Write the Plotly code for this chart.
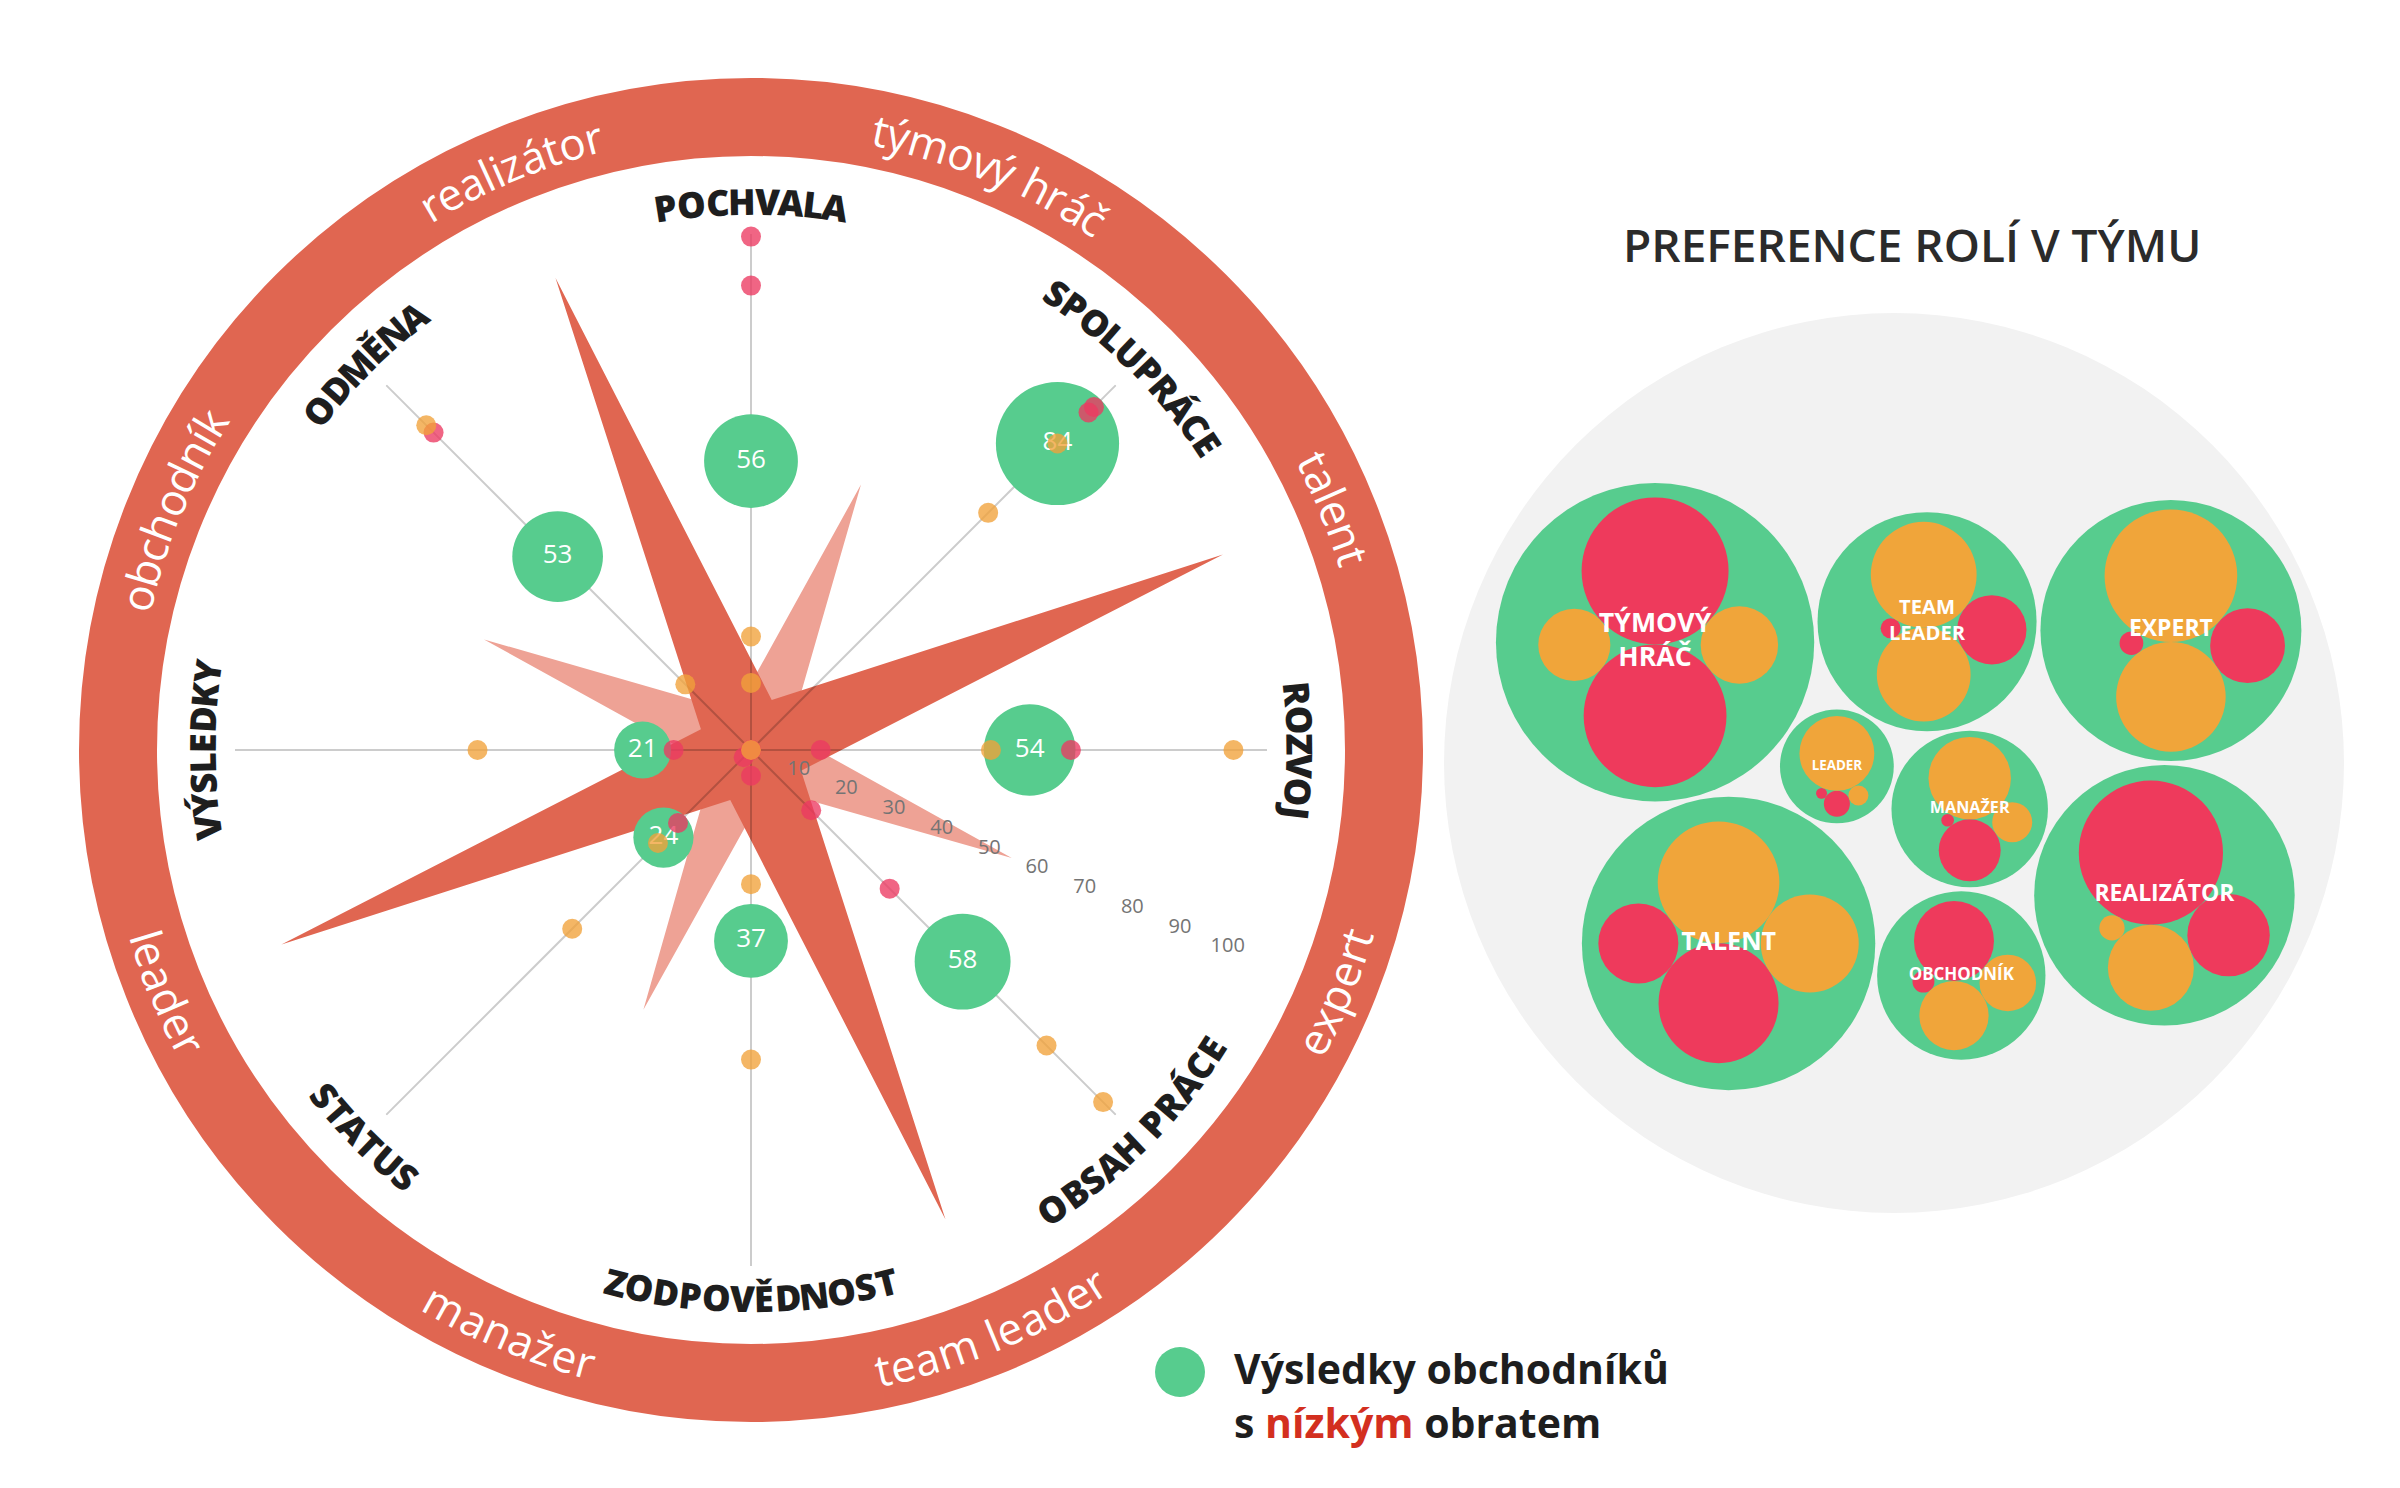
import math
import unicodedata
import plotly.graph_objects as go

W, H = 2400, 1488

# ------------------------------------------------------------------ data
CATEGORIES = ["POCHVALA", "SPOLUPRÁCE", "ROZVOJ", "OBSAH PRÁCE",
              "ZODPOVĚDNOST", "STATUS", "VÝSLEDKY", "ODMĚNA"]
GREEN_VALUES = [56, 84, 54, 58, 37, 24, 21, 53]
RED_1 = [99.5, 94, 62, 38, 5, 20, 15, 87]
RED_2 = [90, 92.5, 13.5, 16.5, 0, 2, 0, 0]
ORANGE_1 = [22, 84, 93.5, 96.5, 26, 49, 53, 89]
ORANGE_2 = [13, 65, 46.5, 81, 60, 25.5, 0, 18]

RING_ROLES = ["týmový hráč", "talent", "expert", "team leader",
              "manažer", "leader", "obchodník", "realizátor"]
STAR_DARK = [10.5, 99, 10.5, 98.5, 10.5, 98.5, 10.5, 99]
STAR_LIGHT = [55.7, 8, 54.7, 8, 54.5, 8, 56, 8]
RADIAL_TICKS = [10, 20, 30, 40, 50, 60, 70, 80, 90, 100]

ROLE_NAMES = ["TÝMOVÝ HRÁČ", "TEAM LEADER", "EXPERT", "REALIZÁTOR",
              "OBCHODNÍK", "TALENT", "MANAŽER", "LEADER"]
ROLE_RED_1 = [54, 12, 14, 52, 16, 16, 9.6, 1.7]
ROLE_RED_2 = [51, 1, 1.4, 17, 1.2, 36, 0.4, 0.3]
ROLE_ORANGE_1 = [15, 28, 44, 18.5, 12, 37, 17, 14]
ROLE_ORANGE_2 = [13, 22, 30, 1.6, 8, 24, 4, 1]

TITLE = "PREFERENCE ROLÍ V TÝMU"
LEGEND_LINE1 = "Výsledky obchodníků"
LEGEND_LINE2 = "s <span style='color:#d32f1f'>nízkým</span> obratem"

# ------------------------------------------------------------------ style / geometry
FONT = "Open Sans"
GREEN = "#57cc8e"
RED = "#ec3a62"
ORANGE = "#f1a23a"
CORAL = "#e06651"
PINK = "#eea295"
INNER_RED = "#ee3a5c"
INNER_ORANGE = "#f0a53a"

CX, CY = 743.0, 742.0
R_POLAR = 516.0
RING_R, RING_W = 633.0, 78.0
LABEL_R = 549.0

PACK_CX, PACK_CY = 1892.0, 748.0
GRAY_CX, GRAY_CY = 1886.0, 755.0
PACK_START_BEARING = 306.0

REG = {'a': .556, 'b': .613, 'c': .476, 'd': .613, 'e': .561, 'f': .336, 'g': .546,
       'h': .614, 'i': .253, 'j': .253, 'k': .525, 'l': .253, 'm': .930, 'n': .614,
       'o': .604, 'p': .613, 'q': .613, 'r': .408, 's': .477, 't': .353, 'u': .614,
       'v': .500, 'w': .778, 'x': .519, 'y': .500, 'z': .477, ' ': .260}
BOLD = {'A': .690, 'B': .681, 'C': .640, 'D': .722, 'E': .576, 'F': .553, 'G': .725,
        'H': .742, 'I': .364, 'J': .347, 'K': .669, 'L': .547, 'M': .897, 'N': .760,
        'O': .782, 'P': .654, 'R': .686, 'S': .576, 'T': .588, 'U': .737, 'V': .654,
        'W': .980, 'X': .650, 'Y': .610, 'Z': .574, ' ': .260}


def base_char(ch):
    return unicodedata.normalize("NFD", ch)[0]


def arc_text(text, bearing, radius, size, table, color, weight):
    widths = [table.get(base_char(c), 0.6) * size for c in text]
    total = sum(widths)
    span = total / radius
    bottom = 90 < (bearing % 360) < 270
    out = []
    cum = 0.0
    for ch, w in zip(text, widths):
        off = (cum + w / 2) / radius - span / 2
        cum += w
        if ch == " ":
            continue
        if bottom:
            b = bearing - math.degrees(off)
            rot = b - 180
        else:
            b = bearing + math.degrees(off)
            rot = b
        rot = (rot + 180) % 360 - 180
        px = CX + radius * math.sin(math.radians(b))
        py = CY - radius * math.cos(math.radians(b))
        out.append(dict(x=px / W, y=1 - py / H, xref="paper", yref="paper",
                        text=ch, textangle=rot, showarrow=False,
                        xanchor="center", yanchor="middle",
                        font=dict(family=FONT, size=size, color=color, weight=weight)))
    return out


# ------------------------------------------------------------------ packing helpers
def circle_intersections(p1, r1, p2, r2):
    dx, dy = p2[0] - p1[0], p2[1] - p1[1]
    d = math.hypot(dx, dy)
    if d == 0 or d > r1 + r2 or d < abs(r1 - r2):
        return []
    a = (r1 * r1 - r2 * r2 + d * d) / (2 * d)
    h = math.sqrt(max(r1 * r1 - a * a, 0))
    mx, my = p1[0] + a * dx / d, p1[1] + a * dy / d
    return [(mx + h * dy / d, my - h * dx / d), (mx - h * dy / d, my + h * dx / d)]


def greedy_pack(radii, first_bearing, gap):
    order = sorted(range(len(radii)), key=lambda i: -radii[i])
    pos = {}
    placed = []
    for idx in order:
        r = radii[idx]
        if not placed:
            pos[idx] = (0.0, 0.0)
        elif len(placed) == 1:
            j = placed[0]
            d = radii[j] + r + gap
            a = math.radians(first_bearing)
            pos[idx] = (pos[j][0] + d * math.sin(a), pos[j][1] - d * math.cos(a))
        else:
            wt = sum(radii[j] ** 2 for j in placed)
            gx = sum(pos[j][0] * radii[j] ** 2 for j in placed) / wt
            gy = sum(pos[j][1] * radii[j] ** 2 for j in placed) / wt
            best = None
            for ai in range(len(placed)):
                for bi in range(ai + 1, len(placed)):
                    ja, jb = placed[ai], placed[bi]
                    for p in circle_intersections(pos[ja], radii[ja] + r + gap,
                                                  pos[jb], radii[jb] + r + gap):
                        ok = all(math.hypot(p[0] - pos[k][0], p[1] - pos[k][1])
                                 >= radii[k] + r + gap - 1e-6 for k in placed)
                        if ok:
                            s = math.hypot(p[0] - gx, p[1] - gy)
                            if best is None or s < best[0] - 1e-9:
                                best = (s, p)
            pos[idx] = best[1]
        placed.append(idx)
    return [pos[i] for i in range(len(radii))]


def enclose(pos, radii):
    cx = sum(p[0] for p in pos) / len(pos)
    cy = sum(p[1] for p in pos) / len(pos)
    for t in range(1, 3000):
        bd, bx = -1, None
        for (x, y), r in zip(pos, radii):
            d = math.hypot(x - cx, y - cy) + r
            if d > bd:
                bd, bx = d, (x, y, r)
        x, y, r = bx
        dd = math.hypot(x - cx, y - cy)
        if dd < 1e-9:
            fx, fy = x + r, y
        else:
            fx, fy = x + (x - cx) / dd * r, y + (y - cy) / dd * r
        cx += (fx - cx) / (t + 1)
        cy += (fy - cy) / (t + 1)
    R = max(math.hypot(x - cx, y - cy) + r for (x, y), r in zip(pos, radii))
    return (cx, cy), R


def ring_pack(radii, start_bearing, gap):
    """Big circles chained along the inside of a container circle (data order)."""
    n = len(radii)

    def ang(ri, rj, rc):
        di, dj = rc - ri, rc - rj
        c = (di * di + dj * dj - (ri + rj + gap) ** 2) / (2 * di * dj)
        return math.degrees(math.acos(max(-1.0, min(1.0, c))))

    def total(rc):
        return sum(ang(radii[i], radii[(i + 1) % n], rc) for i in range(n))

    lo, hi = max(radii) * 1.01, sum(radii) * 2
    for _ in range(100):
        mid = (lo + hi) / 2
        if total(mid) > 360:
            lo = mid
        else:
            hi = mid
    rc = (lo + hi) / 2
    pos, b = [], start_bearing
    for i in range(n):
        d = rc - radii[i]
        pos.append((d * math.sin(math.radians(b)), -d * math.cos(math.radians(b))))
        b += ang(radii[i], radii[(i + 1) % n], rc)
    return pos, rc


def fill_inside(pos, radii, new_radii, rc, gap):
    pos, radii = list(pos), list(radii)
    out = [None] * len(new_radii)
    for idx in sorted(range(len(new_radii)), key=lambda i: -new_radii[i]):
        r = new_radii[idx]
        cands = [(0.0, 0.0)]
        for a in range(len(pos)):
            for b in range(a + 1, len(pos)):
                cands += circle_intersections(pos[a], radii[a] + r + gap,
                                              pos[b], radii[b] + r + gap)
            d = math.hypot(*pos[a])
            if d > 0:
                k = (d - radii[a] - r - gap) / d
                cands.append((pos[a][0] * k, pos[a][1] * k))
        best = None
        for p in cands:
            if math.hypot(*p) + r > rc + 1e-6:
                continue
            if all(math.hypot(p[0] - q[0], p[1] - q[1]) >= rq + r + gap - 1e-6
                   for q, rq in zip(pos, radii)):
                contacts = sum(1 for q, rq in zip(pos, radii)
                               if math.hypot(p[0] - q[0], p[1] - q[1]) < rq + r + gap + 1.0)
                s = (round(math.hypot(*p), 3), -contacts)
                if best is None or s < best[0]:
                    best = (s, p)
        p = best[1] if best else (0.0, 0.0)
        out[idx] = p
        pos.append(p)
        radii.append(r)
    return out


def compact(pos, radii, gap, pull_x, pull_y, steps=500):
    pos = [list(p) for p in pos]
    n = len(pos)
    for it in range(steps):
        if it < steps - 80:
            for p in pos:
                p[0] *= pull_x
                p[1] *= pull_y
        for _ in range(6):
            for i in range(n):
                for j in range(i + 1, n):
                    dx = pos[j][0] - pos[i][0]
                    dy = pos[j][1] - pos[i][1]
                    d = math.hypot(dx, dy) or 1e-6
                    m = radii[i] + radii[j] + gap
                    if d < m:
                        ov = m - d
                        wi = radii[j] ** 2 / (radii[i] ** 2 + radii[j] ** 2)
                        wj = 1 - wi
                        pos[i][0] -= dx / d * ov * wi
                        pos[i][1] -= dy / d * ov * wi
                        pos[j][0] += dx / d * ov * wj
                        pos[j][1] += dy / d * ov * wj
    return [tuple(p) for p in pos]


# ------------------------------------------------------------------ figure
fig = go.Figure()

n_cat = len(CATEGORIES)
cat_theta = [i * 360.0 / n_cat for i in range(n_cat)]
role_theta = [(i + 0.5) * 360.0 / len(RING_ROLES) for i in range(len(RING_ROLES))]


def closed(v):
    return list(v) + [v[0]]


fig.add_trace(go.Scatterpolar(r=closed(STAR_LIGHT), theta=closed(role_theta), mode="lines",
                              fill="toself", fillcolor=PINK, line=dict(width=0, color=PINK),
                              hoverinfo="skip", showlegend=False))
fig.add_trace(go.Scatterpolar(r=closed(STAR_DARK), theta=closed(role_theta), mode="lines",
                              fill="toself", fillcolor=CORAL, line=dict(width=0, color=CORAL),
                              hoverinfo="skip", showlegend=False))

rmax = RADIAL_TICKS[-1]
gr, gt = [], []
for t in cat_theta:
    gr += [0, rmax, None]
    gt += [t, t, None]
fig.add_trace(go.Scatterpolar(r=gr, theta=gt, mode="lines", connectgaps=False,
                              line=dict(color="rgba(0,0,0,0.2)", width=2),
                              hoverinfo="skip", showlegend=False))

fig.add_trace(go.Scatterpolar(r=RADIAL_TICKS, theta=[role_theta[2]] * len(RADIAL_TICKS),
                              mode="text", text=[str(t) for t in RADIAL_TICKS],
                              textfont=dict(family=FONT, size=20, color="#747474"),
                              hoverinfo="skip", showlegend=False, cliponaxis=False))

fig.add_trace(go.Scatterpolar(r=GREEN_VALUES, theta=cat_theta, mode="markers+text",
                              text=[str(v) for v in GREEN_VALUES],
                              textfont=dict(family=FONT, size=26, color="white"),
                              marker=dict(size=[35 + 1.05 * v for v in GREEN_VALUES],
                                          color=GREEN, opacity=1, line=dict(width=0)),
                              showlegend=False, cliponaxis=False))

for vals, col in [(RED_1, RED), (RED_2, RED), (ORANGE_1, ORANGE), (ORANGE_2, ORANGE)]:
    fig.add_trace(go.Scatterpolar(r=vals, theta=cat_theta, mode="markers",
                                  marker=dict(size=20, color=col, opacity=0.78,
                                              line=dict(width=0)),
                                  showlegend=False, cliponaxis=False))

# ------------------------------------------------------------------ right panel (packed circles)
INNER_K = 10.0
ROLE_K = 13.8
role_radii, inner = [], []
for i in range(len(ROLE_NAMES)):
    vals = [ROLE_RED_1[i], ROLE_RED_2[i], ROLE_ORANGE_1[i], ROLE_ORANGE_2[i]]
    cols = [INNER_RED, INNER_RED, INNER_ORANGE, INNER_ORANGE]
    radii = [INNER_K * math.sqrt(v) for v in vals]
    pos = greedy_pack(radii, 180, 0)
    (ex, ey), er = enclose(pos, radii)
    rel = [(x - ex, y - ey) for x, y in pos]
    role_radii.append(max(ROLE_K * math.sqrt(sum(vals)), er + 6))
    inner.append(list(zip(rel, radii, cols)))

GAP = 4
big_thr = 0.52 * max(role_radii)
outer_idx = [i for i, r in enumerate(role_radii) if r >= big_thr]
inner_idx = [i for i, r in enumerate(role_radii) if r < big_thr]
ring_pos, rc = ring_pack([role_radii[i] for i in outer_idx], PACK_START_BEARING, GAP)
EXPAND = 1.22
ring_pos = [(x * EXPAND, y * EXPAND) for x, y in ring_pos]
in_pos = fill_inside(ring_pos, [role_radii[i] for i in outer_idx],
                     [role_radii[i] for i in inner_idx], rc * EXPAND, GAP)
role_pos = [None] * len(role_radii)
for i, p in zip(outer_idx, ring_pos):
    role_pos[i] = p
for i, p in zip(inner_idx, in_pos):
    role_pos[i] = p
role_pos = compact(role_pos, role_radii, GAP, 0.995, 0.985)
(ecx, ecy), eR = enclose(role_pos, role_radii)
role_pos = [(x - ecx + PACK_CX, y - ecy + PACK_CY) for x, y in role_pos]
gray_r = min(eR + 44, 450)

fig.add_trace(go.Scatter(x=[GRAY_CX], y=[GRAY_CY], mode="markers",
                         marker=dict(size=[2 * gray_r], color="#f2f2f2", opacity=1,
                                     line=dict(width=0)),
                         hoverinfo="skip", showlegend=False, cliponaxis=False))
fig.add_trace(go.Scatter(x=[p[0] for p in role_pos], y=[p[1] for p in role_pos], mode="markers",
                         marker=dict(size=[2 * r for r in role_radii], color=GREEN, opacity=1,
                                     line=dict(width=0)),
                         hoverinfo="skip", showlegend=False, cliponaxis=False))
for col in (INNER_RED, INNER_ORANGE):
    xs, ys, ss = [], [], []
    for (px, py), items in zip(role_pos, inner):
        for (dx, dy), r, c in items:
            if c == col:
                xs.append(px + dx)
                ys.append(py + dy)
                ss.append(2 * r)
    fig.add_trace(go.Scatter(x=xs, y=ys, mode="markers",
                             marker=dict(size=ss, color=col, opacity=1, line=dict(width=0)),
                             hoverinfo="skip", showlegend=False, cliponaxis=False))
fig.add_trace(go.Scatter(x=[p[0] for p in role_pos], y=[p[1] for p in role_pos], mode="text",
                         text=[n.replace(" ", "<br>") for n in ROLE_NAMES],
                         textposition="middle center",
                         textfont=dict(family=FONT, size=[6 + 0.13 * r for r in role_radii],
                                       color="white", weight=700),
                         hoverinfo="skip", showlegend=False, cliponaxis=False))

# ------------------------------------------------------------------ annotations
ann = []
for name, b in zip(RING_ROLES, role_theta):
    ann += arc_text(name, b, RING_R, 44, REG, "white", 400)
for name, b in zip(CATEGORIES, cat_theta):
    ann += arc_text(name, b, LABEL_R, 36, BOLD, "#1e1e1e", 800)

ann.append(dict(x=1904 / W, y=1 - 236 / H, xref="paper", yref="paper", text=TITLE,
                showarrow=False, xanchor="center", yanchor="middle",
                font=dict(family=FONT, size=46, color="#2b2b2b", weight=600)))
ann.append(dict(x=1224 / W, y=1 - 1360 / H, xref="paper", yref="paper", text=LEGEND_LINE1,
                showarrow=False, xanchor="left", yanchor="middle",
                font=dict(family=FONT, size=41, color="#1e1e1e", weight=700)))
ann.append(dict(x=1224 / W, y=1 - 1414 / H, xref="paper", yref="paper", text=LEGEND_LINE2,
                showarrow=False, xanchor="left", yanchor="middle",
                font=dict(family=FONT, size=41, color="#1e1e1e", weight=700)))

shapes = [
    dict(type="circle", xref="paper", yref="paper",
         x0=(CX - RING_R) / W, x1=(CX + RING_R) / W,
         y0=1 - (CY + RING_R) / H, y1=1 - (CY - RING_R) / H,
         line=dict(color=CORAL, width=RING_W), fillcolor="rgba(0,0,0,0)", layer="below"),
    dict(type="circle", xref="paper", yref="paper",
         x0=(1172 - 25) / W, x1=(1172 + 25) / W,
         y0=1 - (1364 + 25) / H, y1=1 - (1364 - 25) / H,
         line=dict(width=0), fillcolor=GREEN),
]

fig.update_layout(
    width=W, height=H, margin=dict(l=0, r=0, t=0, b=0),
    paper_bgcolor="white", plot_bgcolor="rgba(0,0,0,0)",
    showlegend=False,
    polar=dict(
        domain=dict(x=[(CX - R_POLAR) / W, (CX + R_POLAR) / W],
                    y=[1 - (CY + R_POLAR) / H, 1 - (CY - R_POLAR) / H]),
        bgcolor="rgba(0,0,0,0)",
        angularaxis=dict(type="linear", thetaunit="degrees", rotation=90,
                         direction="clockwise", showgrid=False, showline=False,
                         showticklabels=False, ticks=""),
        radialaxis=dict(range=[0, 100], showgrid=False, showline=False,
                        showticklabels=False, ticks=""),
    ),
    xaxis=dict(domain=[1420 / W, 1], range=[1420, W], visible=False, fixedrange=True),
    yaxis=dict(domain=[0, 1], range=[H, 0], visible=False, fixedrange=True),
    annotations=ann,
    shapes=shapes,
)

fig.write_html("out.html")
